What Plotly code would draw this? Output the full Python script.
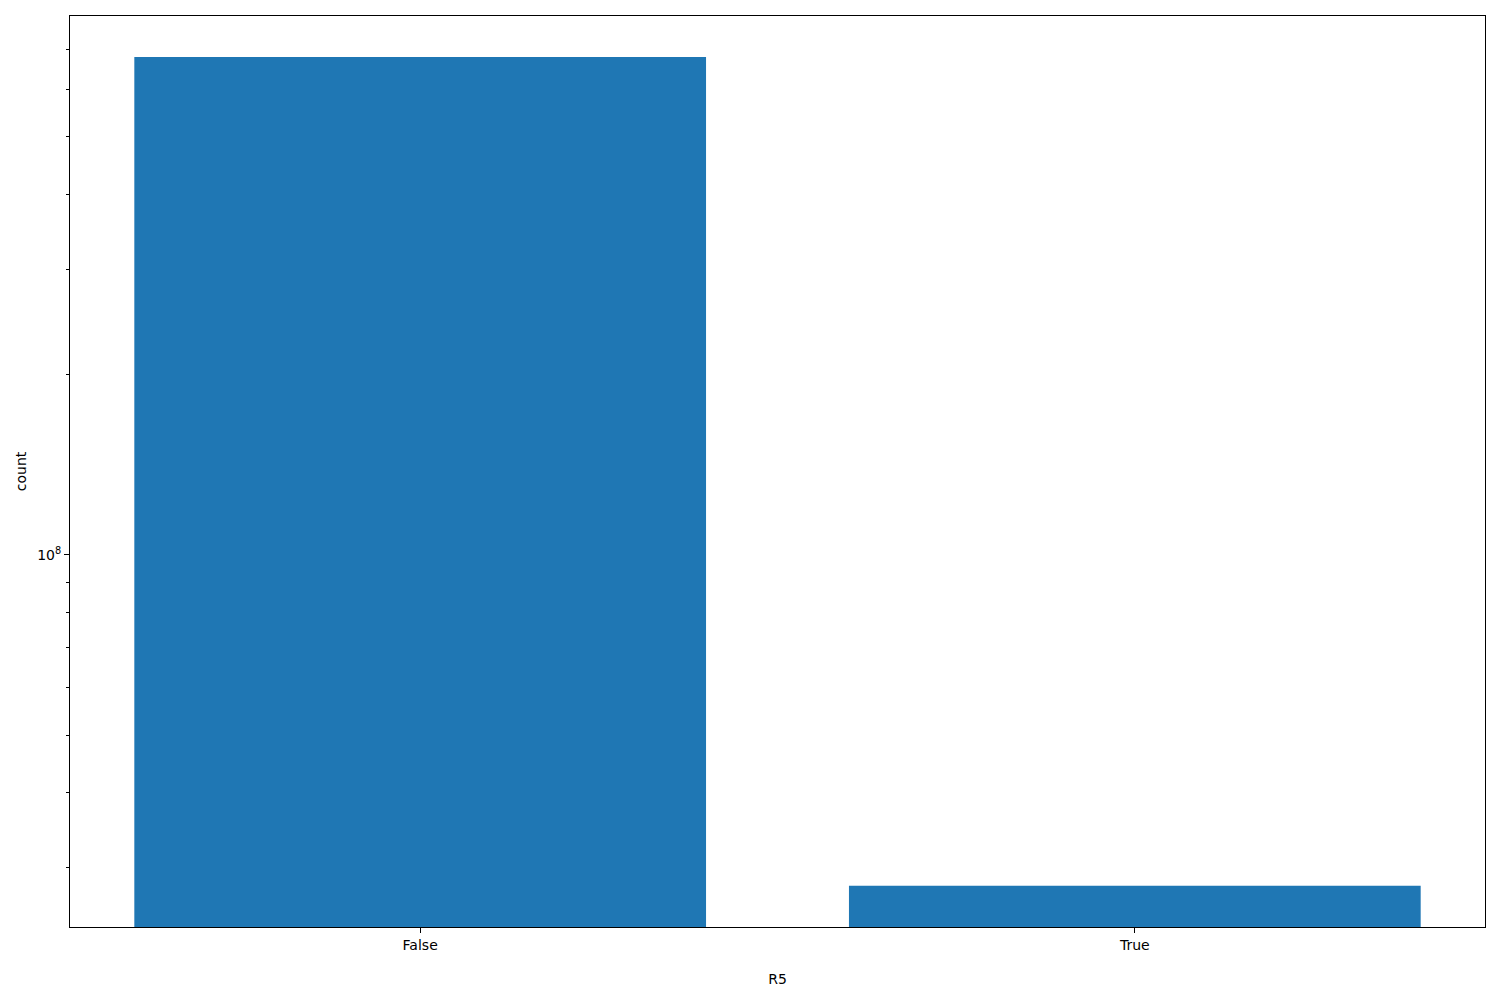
import plotly.graph_objects as go

categories = ["False", "True"]
counts = [6.8e8, 2.8e7]

minor_vals = [2e7, 3e7, 4e7, 5e7, 6e7, 7e7, 8e7, 9e7,
              2e8, 3e8, 4e8, 5e8, 6e8, 7e8, 8e8, 9e8]

fnt = dict(family="DejaVu Sans", size=14, color="black")

fig = go.Figure(go.Bar(
    x=categories,
    y=counts,
    marker=dict(color="#1f77b4", line=dict(width=0)),
    width=0.8,
))

fig.update_layout(
    width=1500, height=1000,
    margin=dict(l=62, r=23, t=8, b=81),
    plot_bgcolor="white", paper_bgcolor="white",
    font=fnt,
    showlegend=False,
)
fig.update_xaxes(
    type="category",
    range=[-0.49, 1.49],
    showline=True, linecolor="black", linewidth=1, mirror=True,
    ticks="outside", ticklen=5, tickcolor="black",
    tickfont=fnt,
    showgrid=False,
    title=dict(text="R5", standoff=22, font=fnt),
)
fig.update_yaxes(
    type="log",
    range=[7.378, 8.901],
    showline=True, linecolor="black", linewidth=1, mirror=True,
    ticks="outside", ticklen=5, tickcolor="black",
    tickvals=[1e8], ticktext=["10<sup>8</sup>"],
    tickfont=fnt,
    minor=dict(tickvals=minor_vals, ticks="outside", ticklen=3,
               tickcolor="black", showgrid=False),
    showgrid=False, zeroline=False,
    title=dict(text="count", standoff=7, font=fnt),
)

fig.write_html("out.html")
